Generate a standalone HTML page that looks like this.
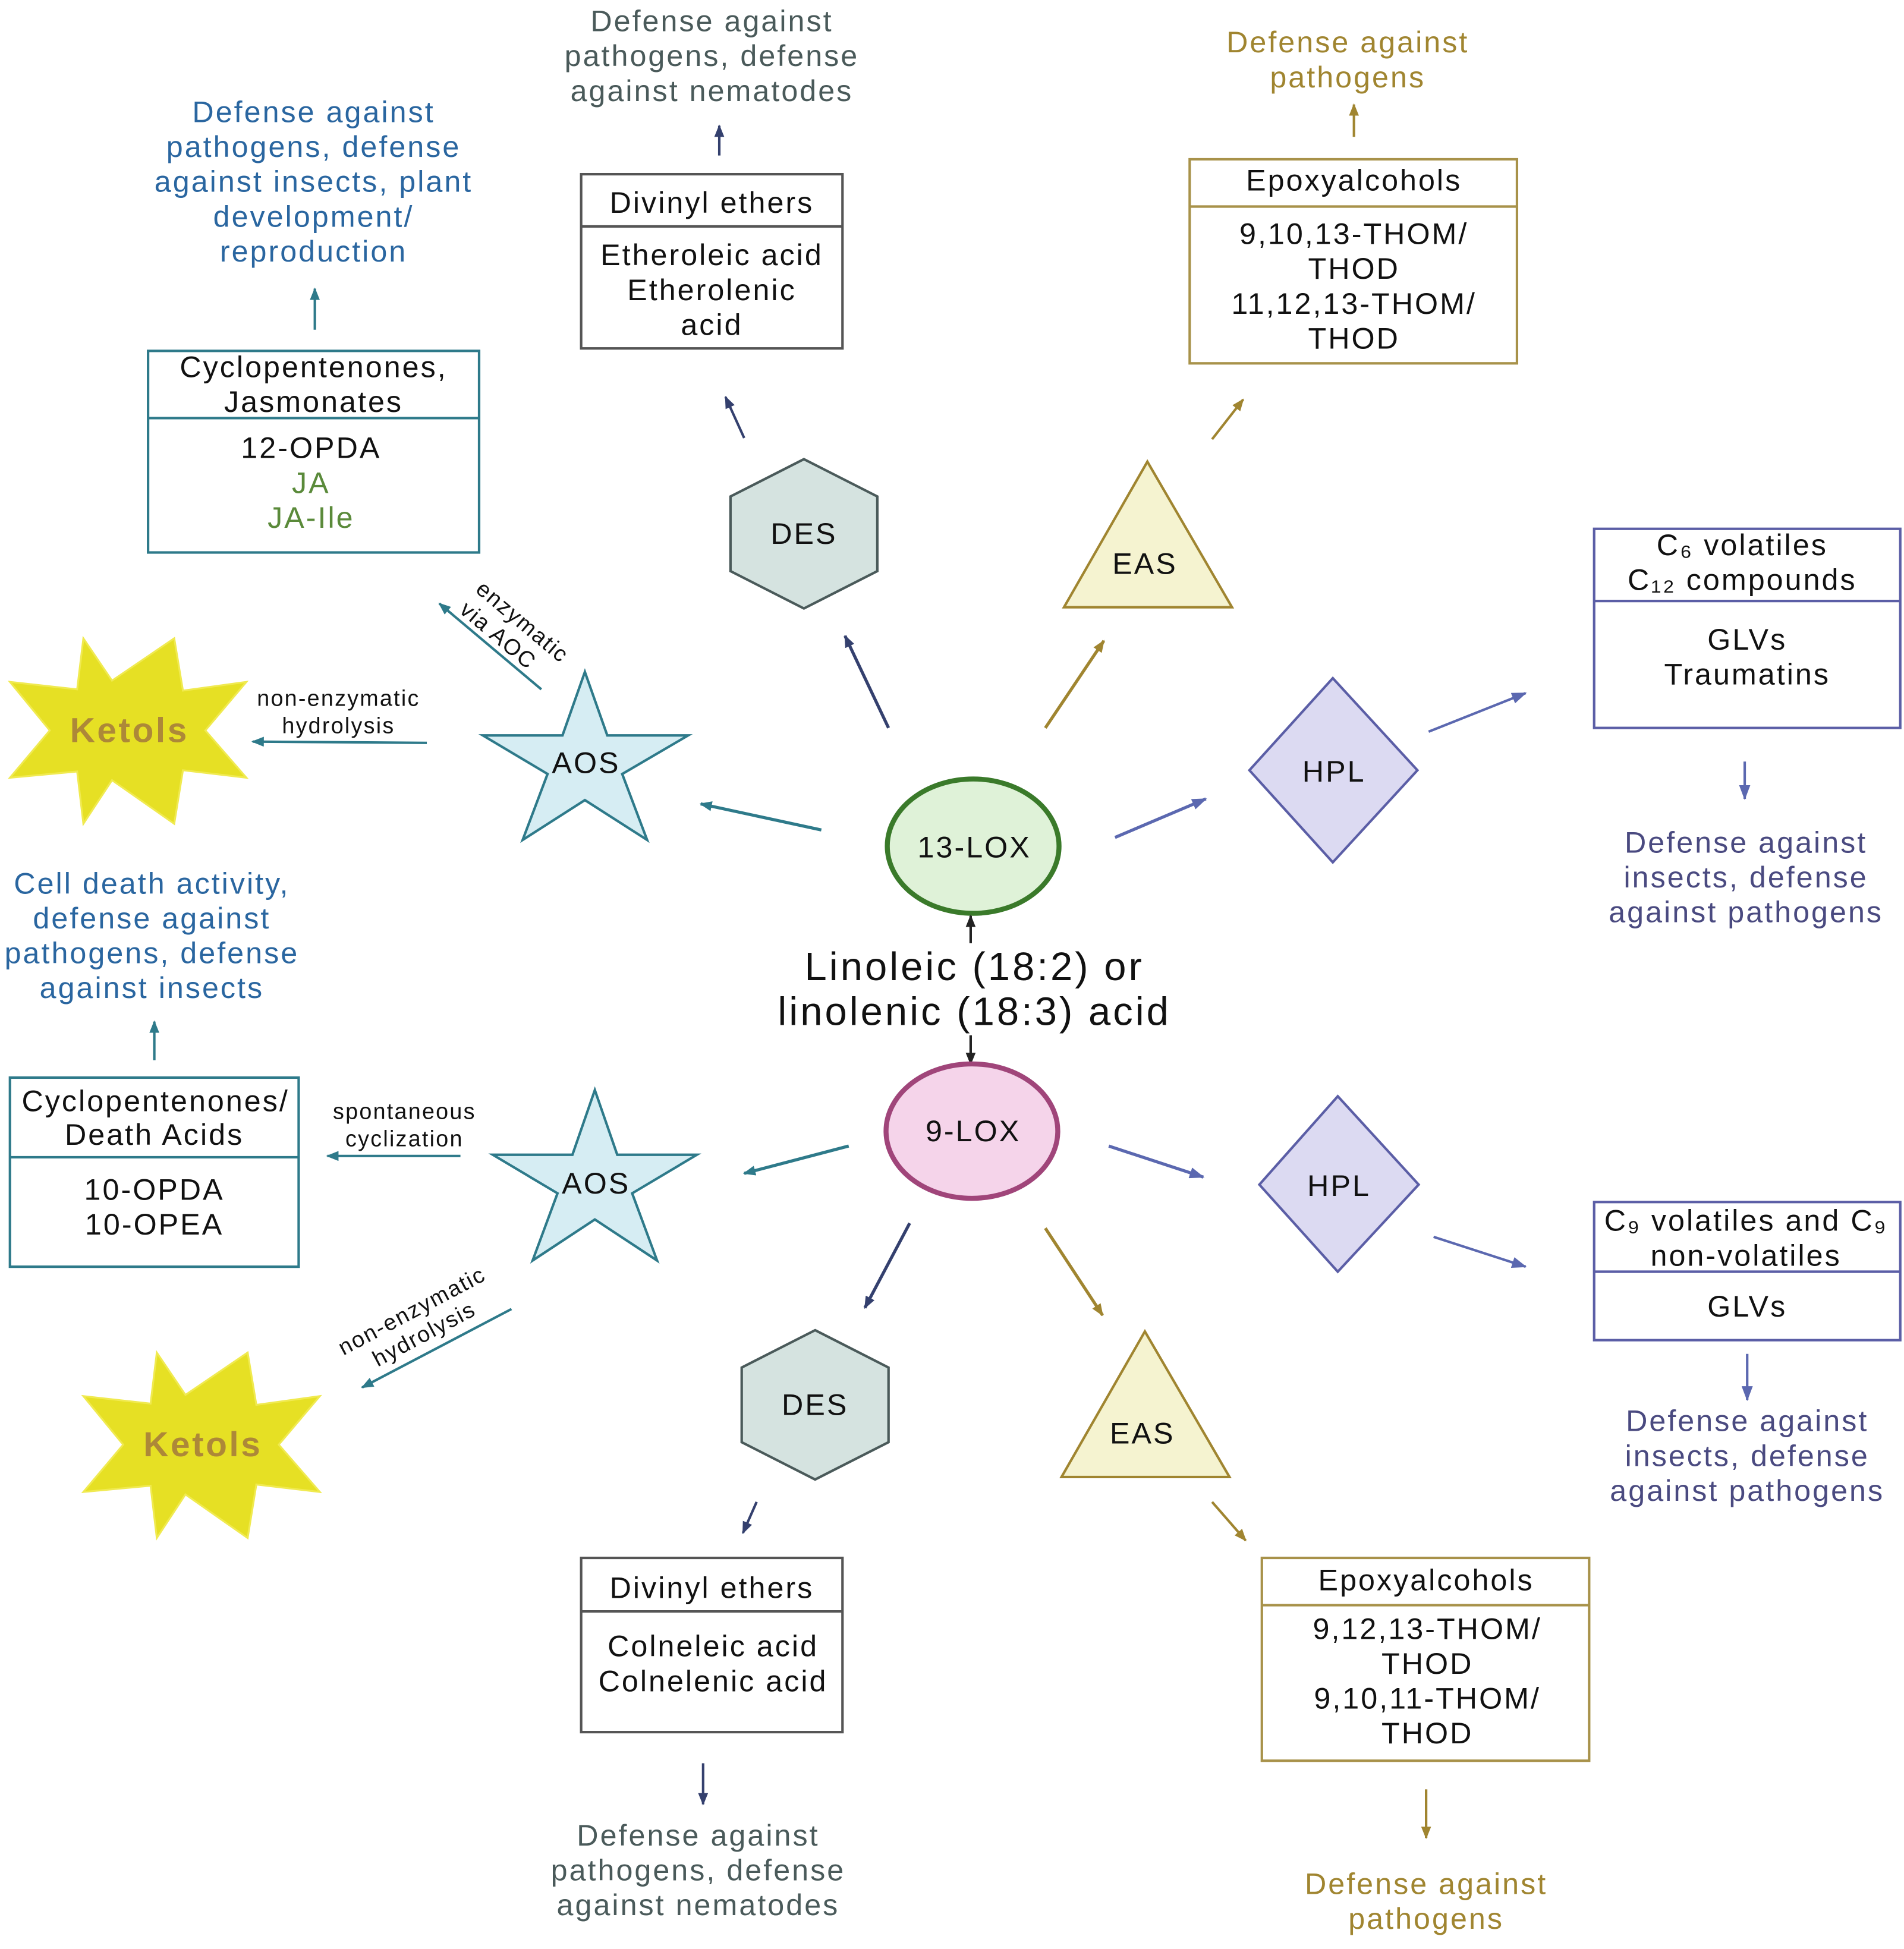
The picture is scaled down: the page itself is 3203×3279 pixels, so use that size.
<!DOCTYPE html>
<html><head><meta charset="utf-8"><style>
html,body{margin:0;padding:0;background:#fff;}
svg{display:block;}
text{font-family:"Liberation Sans",sans-serif;text-anchor:middle;dominant-baseline:central;letter-spacing:0.06em;}
</style></head><body>
<svg width="3203" height="3279" viewBox="0 0 1530 1566.3" preserveAspectRatio="none" xmlns="http://www.w3.org/2000/svg">
<defs>
<marker id="mt" markerWidth="10" markerHeight="8" refX="9" refY="4" orient="auto" markerUnits="userSpaceOnUse"><path d="M0,0L10,4L0,8z" fill="#2e7a8a"/></marker>
<marker id="mn" markerWidth="10" markerHeight="8" refX="9" refY="4" orient="auto" markerUnits="userSpaceOnUse"><path d="M0,0L10,4L0,8z" fill="#34406e"/></marker>
<marker id="mg" markerWidth="10" markerHeight="8" refX="9" refY="4" orient="auto" markerUnits="userSpaceOnUse"><path d="M0,0L10,4L0,8z" fill="#a08530"/></marker>
<marker id="mp" markerWidth="12" markerHeight="9" refX="11" refY="4.5" orient="auto" markerUnits="userSpaceOnUse"><path d="M0,0L12,4.5L0,9z" fill="#5b68b0"/></marker>
<marker id="mk" markerWidth="10" markerHeight="8" refX="9" refY="4" orient="auto" markerUnits="userSpaceOnUse"><path d="M0,0L10,4L0,8z" fill="#222"/></marker>
</defs>
<rect width="1530" height="1567" fill="#fff"/>

<g font-size="24" fill="#2a66a0">
<text x="252" y="90">Defense against</text><text x="252" y="118">pathogens, defense</text><text x="252" y="146">against insects, plant</text><text x="252" y="174">development/</text><text x="252" y="202">reproduction</text>
</g>
<line x1="253" y1="265" x2="253" y2="232" stroke="#2e7a8a" stroke-width="2" marker-end="url(#mt)"/>

<rect x="119" y="282" width="266" height="162" fill="#fff" stroke="#2e7a8a" stroke-width="2"/>
<line x1="119" y1="336" x2="385" y2="336" stroke="#2e7a8a" stroke-width="2"/>
<g font-size="24" fill="#111"><text x="252" y="295">Cyclopentenones,</text><text x="252" y="323">Jasmonates</text><text x="250" y="360">12-OPDA</text></g>
<g font-size="24" fill="#5a8a3a"><text x="250" y="388">JA</text><text x="250" y="416">JA-Ile</text></g>

<g font-size="24" fill="#4a5a5a"><text x="572" y="17">Defense against</text><text x="572" y="45">pathogens, defense</text><text x="572" y="73">against nematodes</text></g>
<line x1="578" y1="125" x2="578" y2="101" stroke="#34406e" stroke-width="2" marker-end="url(#mn)"/>
<rect x="467" y="140" width="210" height="140" fill="#fff" stroke="#555" stroke-width="2"/>
<line x1="467" y1="182" x2="677" y2="182" stroke="#555" stroke-width="2"/>
<g font-size="24" fill="#111"><text x="572" y="163">Divinyl ethers</text><text x="572" y="205">Etheroleic acid</text><text x="572" y="233">Etherolenic</text><text x="572" y="261">acid</text></g>

<g font-size="24" fill="#a08530"><text x="1083" y="34">Defense against</text><text x="1083" y="62">pathogens</text></g>
<line x1="1088" y1="110" x2="1088" y2="84" stroke="#a08530" stroke-width="2" marker-end="url(#mg)"/>
<rect x="956" y="128" width="263" height="164" fill="#fff" stroke="#a8924a" stroke-width="2"/>
<line x1="956" y1="166" x2="1219" y2="166" stroke="#a8924a" stroke-width="2"/>
<g font-size="24" fill="#111"><text x="1088" y="145">Epoxyalcohols</text><text x="1088" y="188">9,10,13-THOM/</text><text x="1088" y="216">THOD</text><text x="1088" y="244">11,12,13-THOM/</text><text x="1088" y="272">THOD</text></g>

<polygon points="646,369 705,399 705,459 646,489 587,459 587,399" fill="#d5e3e0" stroke="#4a5a5a" stroke-width="2"/>
<text x="646" y="429" font-size="24" fill="#111">DES</text>
<line x1="598" y1="352" x2="583" y2="319" stroke="#34406e" stroke-width="2" marker-end="url(#mn)"/>

<polygon points="922,371 990,488 855,488" fill="#f5f3d0" stroke="#a08530" stroke-width="2"/>
<text x="920" y="453" font-size="24" fill="#111">EAS</text>
<line x1="974" y1="353" x2="999" y2="321" stroke="#a08530" stroke-width="2" marker-end="url(#mg)"/>

<rect x="1281" y="425" width="246" height="160" fill="#fff" stroke="#5b5ea6" stroke-width="2"/>
<line x1="1281" y1="483" x2="1527" y2="483" stroke="#5b5ea6" stroke-width="2"/>
<g font-size="24" fill="#111"><text x="1400" y="438">C₆ volatiles</text><text x="1400" y="466">C₁₂ compounds</text><text x="1404" y="514">GLVs</text><text x="1404" y="542">Traumatins</text></g>
<line x1="1402" y1="612" x2="1402" y2="642" stroke="#5b68b0" stroke-width="2" marker-end="url(#mp)"/>
<g font-size="24" fill="#4a4a80"><text x="1403" y="677">Defense against</text><text x="1403" y="705">insects, defense</text><text x="1403" y="733">against pathogens</text></g>

<polygon points="1071,545 1139,619 1071,693 1004,619" fill="#dcdaf2" stroke="#5b5ea6" stroke-width="2"/>
<text x="1072" y="620" font-size="24" fill="#111">HPL</text>
<line x1="1148" y1="588" x2="1226" y2="557" stroke="#5b68b0" stroke-width="2" marker-end="url(#mp)"/>

<ellipse cx="782" cy="680" rx="69" ry="54" fill="#dff2d8" stroke="#3a7a2a" stroke-width="4"/>
<text x="783" y="681" font-size="24" fill="#111">13-LOX</text>
<line x1="714" y1="585" x2="679" y2="511" stroke="#34406e" stroke-width="2.5" marker-end="url(#mn)"/>
<line x1="840" y1="585" x2="887" y2="515" stroke="#a08530" stroke-width="2.5" marker-end="url(#mg)"/>
<line x1="896" y1="673" x2="969" y2="642" stroke="#5b68b0" stroke-width="2.5" marker-end="url(#mp)"/>
<line x1="660" y1="667" x2="563" y2="646" stroke="#2e7a8a" stroke-width="2.5" marker-end="url(#mt)"/>

<polygon points="470,540 488,591 553,591 500,622 520,675 470,643 420,675 440,622 388,591 452,591" fill="#d6edf3" stroke="#2e7a8a" stroke-width="2"/>
<text x="471" y="613" font-size="24" fill="#111">AOS</text>
<line x1="435" y1="554" x2="353" y2="485" stroke="#2e7a8a" stroke-width="2" marker-end="url(#mt)"/>
<g font-size="18" fill="#111" transform="translate(413,508) rotate(40)"><text x="0" y="-11">enzymatic</text><text x="-8" y="10">via AOC</text></g>
<g font-size="18" fill="#111"><text x="272" y="561">non-enzymatic</text><text x="272" y="583">hydrolysis</text></g>
<line x1="343" y1="597" x2="203" y2="596" stroke="#2e7a8a" stroke-width="2" marker-end="url(#mt)"/>

<polygon points="67,513 90,547 140,513 147,555 198,548 165,587 198,625 147,619 140,662 90,627 67,662 62,620 8,625 40,587 8,548 62,554" fill="#e6e024" stroke="#f0ea50" stroke-width="1.5"/>
<text x="104" y="587" font-size="28" font-weight="bold" fill="#ad8838">Ketols</text>

<g font-size="24" fill="#2a66a0"><text x="122" y="710">Cell death activity,</text><text x="122" y="738">defense against</text><text x="122" y="766">pathogens, defense</text><text x="122" y="794">against insects</text></g>
<line x1="124" y1="852" x2="124" y2="821" stroke="#2e7a8a" stroke-width="2" marker-end="url(#mt)"/>

<g font-size="32" fill="#111" style="letter-spacing:0.05em"><text x="783" y="777">Linoleic (18:2) or</text><text x="783" y="813">linolenic (18:3) acid</text></g>
<line x1="780" y1="758" x2="780" y2="736" stroke="#222" stroke-width="2" marker-end="url(#mk)"/>
<line x1="780" y1="832" x2="780" y2="855" stroke="#222" stroke-width="2" marker-end="url(#mk)"/>

<ellipse cx="781" cy="909" rx="69" ry="54" fill="#f5d4ea" stroke="#a0457a" stroke-width="4"/>
<text x="782" y="909" font-size="24" fill="#111">9-LOX</text>
<line x1="682" y1="921" x2="598" y2="943" stroke="#2e7a8a" stroke-width="2.5" marker-end="url(#mt)"/>
<line x1="731" y1="983" x2="695" y2="1051" stroke="#34406e" stroke-width="2.5" marker-end="url(#mn)"/>
<line x1="840" y1="987" x2="886" y2="1057" stroke="#a08530" stroke-width="2.5" marker-end="url(#mg)"/>
<line x1="891" y1="921" x2="967" y2="946" stroke="#5b68b0" stroke-width="2.5" marker-end="url(#mp)"/>

<polygon points="478,876 496,928 560,928 508,959 528,1013 478,980 428,1013 448,959 396,928 460,928" fill="#d6edf3" stroke="#2e7a8a" stroke-width="2"/>
<text x="479" y="951" font-size="24" fill="#111">AOS</text>
<g font-size="18" fill="#111"><text x="325" y="893">spontaneous</text><text x="325" y="915">cyclization</text></g>
<line x1="370" y1="929" x2="263" y2="929" stroke="#2e7a8a" stroke-width="2" marker-end="url(#mt)"/>

<rect x="8" y="866" width="232" height="152" fill="#fff" stroke="#2e7a8a" stroke-width="2"/>
<line x1="8" y1="930" x2="240" y2="930" stroke="#2e7a8a" stroke-width="2"/>
<g font-size="24" fill="#111"><text x="125" y="885">Cyclopentenones/</text><text x="124" y="912">Death Acids</text><text x="124" y="956">10-OPDA</text><text x="124" y="984">10-OPEA</text></g>

<g font-size="18" fill="#111" transform="translate(336,1063) rotate(-28)"><text x="0" y="-11">non-enzymatic</text><text x="0" y="10">hydrolysis</text></g>
<line x1="411" y1="1052" x2="291" y2="1115" stroke="#2e7a8a" stroke-width="2" marker-end="url(#mt)"/>

<polygon points="126,1087 149,1121 199,1087 206,1129 257,1122 224,1161 257,1199 206,1193 199,1236 149,1201 126,1236 121,1194 67,1199 99,1161 67,1122 121,1128" fill="#e6e024" stroke="#f0ea50" stroke-width="1.5"/>
<text x="163" y="1161" font-size="28" font-weight="bold" fill="#ad8838">Ketols</text>

<polygon points="655,1069 714,1099 714,1159 655,1189 596,1159 596,1099" fill="#d5e3e0" stroke="#4a5a5a" stroke-width="2"/>
<text x="655" y="1129" font-size="24" fill="#111">DES</text>
<line x1="608" y1="1207" x2="597" y2="1232" stroke="#34406e" stroke-width="2" marker-end="url(#mn)"/>
<rect x="467" y="1252" width="210" height="140" fill="#fff" stroke="#555" stroke-width="2"/>
<line x1="467" y1="1295" x2="677" y2="1295" stroke="#555" stroke-width="2"/>
<g font-size="24" fill="#111"><text x="572" y="1276">Divinyl ethers</text><text x="573" y="1323">Colneleic acid</text><text x="573" y="1351">Colnelenic acid</text></g>
<line x1="565" y1="1417" x2="565" y2="1450" stroke="#34406e" stroke-width="2" marker-end="url(#mn)"/>
<g font-size="24" fill="#4a5a5a"><text x="561" y="1475">Defense against</text><text x="561" y="1503">pathogens, defense</text><text x="561" y="1531">against nematodes</text></g>

<polygon points="920,1070 988,1187 853,1187" fill="#f5f3d0" stroke="#a08530" stroke-width="2"/>
<text x="918" y="1152" font-size="24" fill="#111">EAS</text>
<line x1="974" y1="1207" x2="1001" y2="1238" stroke="#a08530" stroke-width="2" marker-end="url(#mg)"/>
<rect x="1014" y="1252" width="263" height="163" fill="#fff" stroke="#a8924a" stroke-width="2"/>
<line x1="1014" y1="1290" x2="1277" y2="1290" stroke="#a8924a" stroke-width="2"/>
<g font-size="24" fill="#111"><text x="1146" y="1270">Epoxyalcohols</text><text x="1147" y="1309">9,12,13-THOM/</text><text x="1147" y="1337">THOD</text><text x="1147" y="1365">9,10,11-THOM/</text><text x="1147" y="1393">THOD</text></g>
<line x1="1146" y1="1438" x2="1146" y2="1477" stroke="#a08530" stroke-width="2" marker-end="url(#mg)"/>
<g font-size="24" fill="#a08530"><text x="1146" y="1514">Defense against</text><text x="1146" y="1542">pathogens</text></g>

<polygon points="1075,881 1140,952 1075,1022 1012,952" fill="#dcdaf2" stroke="#5b5ea6" stroke-width="2"/>
<text x="1076" y="953" font-size="24" fill="#111">HPL</text>
<line x1="1152" y1="994" x2="1226" y2="1018" stroke="#5b68b0" stroke-width="2" marker-end="url(#mp)"/>
<rect x="1281" y="966" width="246" height="111" fill="#fff" stroke="#5b5ea6" stroke-width="2"/>
<line x1="1281" y1="1022" x2="1527" y2="1022" stroke="#5b5ea6" stroke-width="2"/>
<g font-size="24" fill="#111"><text x="1403" y="981">C₉ volatiles and C₉</text><text x="1403" y="1009">non-volatiles</text><text x="1404" y="1050">GLVs</text></g>
<line x1="1404" y1="1088" x2="1404" y2="1125" stroke="#5b68b0" stroke-width="2" marker-end="url(#mp)"/>
<g font-size="24" fill="#4a4a80"><text x="1404" y="1142">Defense against</text><text x="1404" y="1170">insects, defense</text><text x="1404" y="1198">against pathogens</text></g>
</svg>
</body></html>
